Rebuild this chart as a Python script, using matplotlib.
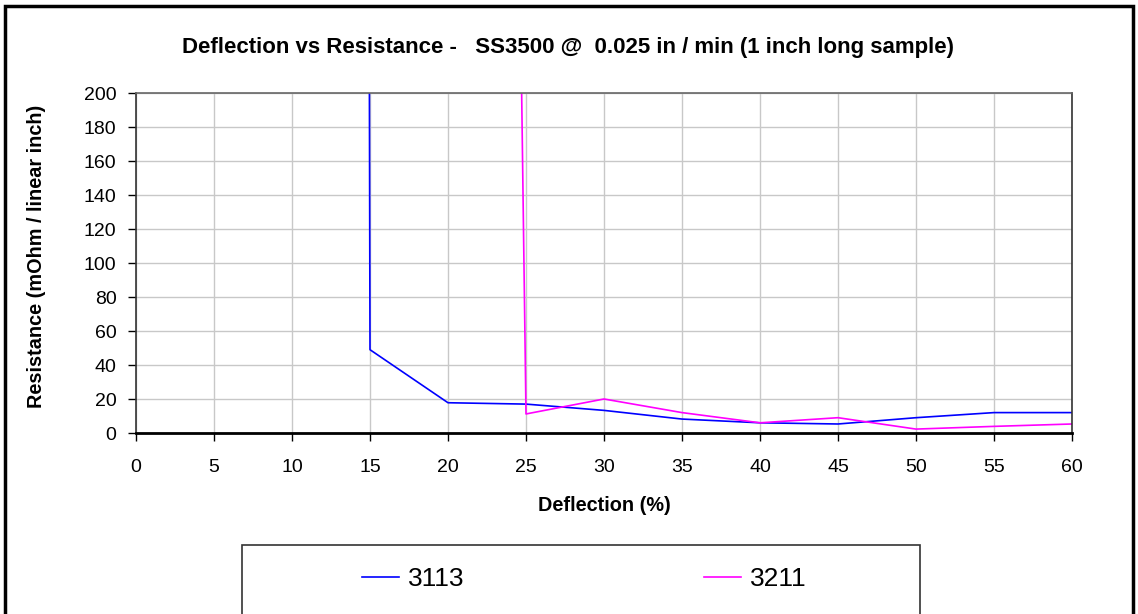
import matplotlib
matplotlib.use("Agg")
import matplotlib.pyplot as plt
from matplotlib.patches import Rectangle
import numpy as np

plt.rcParams['font.family'] = ['Liberation Sans', 'DejaVu Sans']

# data (values above 200 run off the top of the chart)
deflection = [0, 5, 10, 15, 20, 25, 30, 35, 40, 45, 50, 55, 60]
r_3113 = [20000, 20000, 20000, 49, 17.8, 17, 13.3, 8.2, 6, 5.3, 9, 12, 12]
r_3211 = [3400, 3400, 3400, 3400, 3400, 11.2, 20, 12, 6, 9, 2.3, 3.9, 5.3]
x_ticks = list(range(0, 61, 5))
y_ticks = list(range(0, 201, 20))

W, H = 1138, 614
fig = plt.figure(figsize=(W / 100, H / 100), dpi=100)
ax = fig.add_axes([136 / W, 1 - 433 / H, 936 / W, 340 / H])

l1, = ax.plot(deflection, r_3113, color='#0000ff', lw=1.2, label='3113')
l2, = ax.plot(deflection, r_3211, color='#ff00ff', lw=1.2, label='3211')

ax.set_xlim(0, 60)
ax.set_ylim(0, 200)
ax.set_xticks(x_ticks)
ax.set_yticks(y_ticks)
ax.grid(True, color='#c8c8c8', lw=1)
ax.set_axisbelow(True)
ax.tick_params(direction='out', length=6, width=1, labelsize=14, colors='black')
ax.tick_params(axis='x', pad=13)
ax.tick_params(axis='y', pad=8)
for s in ['top', 'right', 'left']:
    ax.spines[s].set_color('#333333')
    ax.spines[s].set_linewidth(1.2)
ax.spines['top'].set_color('#666666')
ax.spines['bottom'].set_color('black')
ax.spines['bottom'].set_linewidth(2)

ax.set_xlabel('Deflection (%)', fontsize=14.3, fontweight='bold')
ax.set_ylabel('Resistance (mOhm / linear inch)', fontsize=14.3, fontweight='bold')
ax.xaxis.set_label_coords(0.5, (433 - 496) / 340)
ax.yaxis.set_label_coords((46 - 136) / 936, 0.52)
fig.text(568 / W, 1 - 48 / H, 'Deflection vs Resistance -   SS3500 @  0.025 in / min (1 inch long sample)',
         ha='center', va='center', fontsize=16, fontweight='bold')

# legend box (runs off the bottom edge like in the reference)
fig.patches.append(Rectangle((242 / W, -0.05), (920 - 242) / W, 0.05 + 1 - 545 / H,
                             transform=fig.transFigure, fill=False, edgecolor='#333333', lw=1.2))
for line, xpos in [(l1, 362), (l2, 704)]:
    lg = fig.legend(handles=[line], loc='center left', bbox_to_anchor=(xpos / W, 1 - 579 / H),
                    frameon=False, fontsize=19, handlelength=1.4, handletextpad=0.35,
                    borderpad=0, borderaxespad=0)

# outer chart border
fig.patches.append(Rectangle((5 / W, -0.05), 1128 / W, 1.05 - 6 / H,
                             transform=fig.transFigure, fill=False, edgecolor='black', lw=2.5))

fig.savefig('out.png', dpi=100)
